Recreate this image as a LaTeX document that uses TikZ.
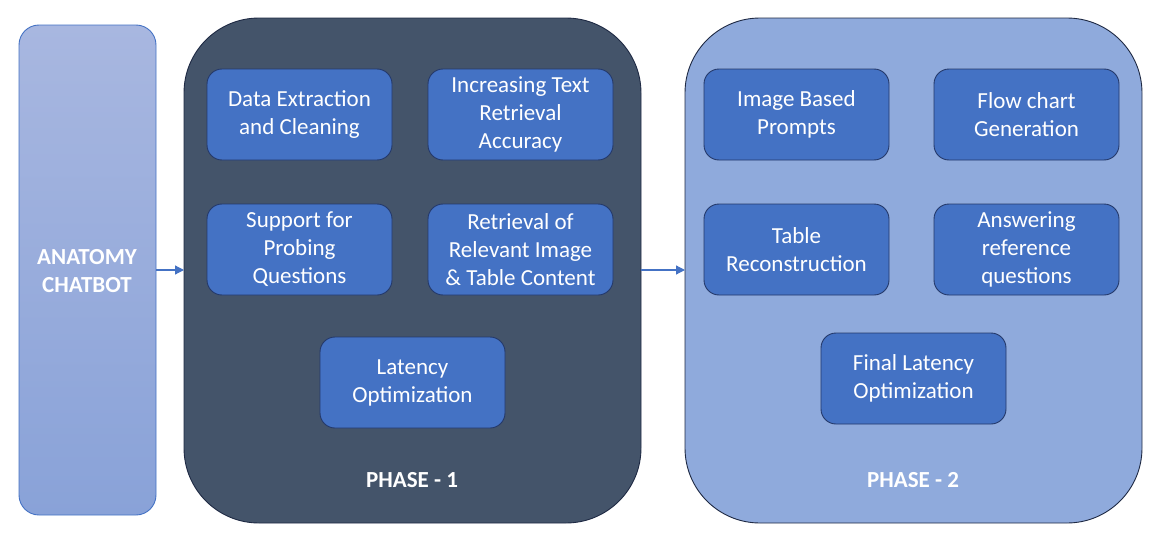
\documentclass[tikz,border=0pt]{standalone}
\usepackage{fontspec}
\setmainfont{Carlito}
\usetikzlibrary{arrows.meta}
\definecolor{leftedge}{HTML}{4472C4}
\definecolor{lefttop}{HTML}{A8B7E0}
\definecolor{leftbot}{HTML}{89A2D8}
\definecolor{phaseone}{HTML}{44546A}
\definecolor{phasetwo}{HTML}{8FAADC}
\definecolor{phaseedge}{HTML}{1F2A44}
\definecolor{taskfill}{HTML}{4472C4}
\definecolor{taskedge}{HTML}{24396A}
\tikzset{
  taskbox/.style={draw=taskedge, line width=0.9pt, fill=taskfill, rounded corners=15pt,
    minimum width=185pt, minimum height=91pt, inner sep=0pt, align=center,
    text=white, font=\fontsize{23}{28}\selectfont},
  phasebox/.style={draw=phaseedge, line width=0.9pt, rounded corners=75pt},
  lbl/.style={text=white, font=\fontsize{23}{28}\selectfont\bfseries, align=center},
  conn/.style={draw=leftedge, line width=1.2pt, -{Triangle[length=9pt,width=9pt]}}
}
\begin{document}
\begin{tikzpicture}[x=1pt,y=-1pt]
\useasboundingbox (0,0) rectangle (1160,546);
% left box
\shade[top color=lefttop, bottom color=leftbot, rounded corners=20pt] (19,25) rectangle (156,515);
\draw[draw=leftedge, line width=0.9pt, rounded corners=20pt] (19,25) rectangle (156,515);
\coordinate (lbR) at (156,270);
\node[lbl] (chat) at (87,271) {ANATOMY\\CHATBOT};
% phase boxes
\draw[phasebox, fill=phaseone] (184,18) rectangle (641,523);
\draw[phasebox, fill=phasetwo] (685,18) rectangle (1142,523);
\coordinate (p1L) at (184,270);
\coordinate (p1R) at (641,270);
\coordinate (p2L) at (685,270);
\node[lbl] (ph1) at (412,480) {PHASE - 1};
\node[lbl] (ph2) at (913,480) {PHASE - 2};
% phase 1 tasks
\node[taskbox] (a1) at (299.5,114.5) {Data Extraction\\and Cleaning};
\node[taskbox] (a2) at (520.5,114.5) {Increasing Text\\Retrieval\\Accuracy};
\node[taskbox] (a3) at (299.5,249.5) {Support for\\Probing\\Questions};
\node[taskbox] (a4) at (520.5,249.5) {Retrieval of\\Relevant Image\\\& Table Content};
\node[taskbox] (a5) at (412.5,382.5) {Latency\\Optimization};
% phase 2 tasks
\node[taskbox] (b1) at (796.5,114.5) {Image Based\\Prompts};
\node[taskbox] (b2) at (1026.5,114.5) {Flow chart\\Generation};
\node[taskbox] (b3) at (796.5,249.5) {Table\\Reconstruction};
\node[taskbox] (b4) at (1026.5,249.5) {Answering\\reference\\questions};
\node[taskbox] (b5) at (913.5,378.5) {Final Latency\\Optimization};
% connectors
\draw[conn] (lbR) -- (p1L);
\draw[conn] (p1R) -- (p2L);
\end{tikzpicture}
\end{document}
